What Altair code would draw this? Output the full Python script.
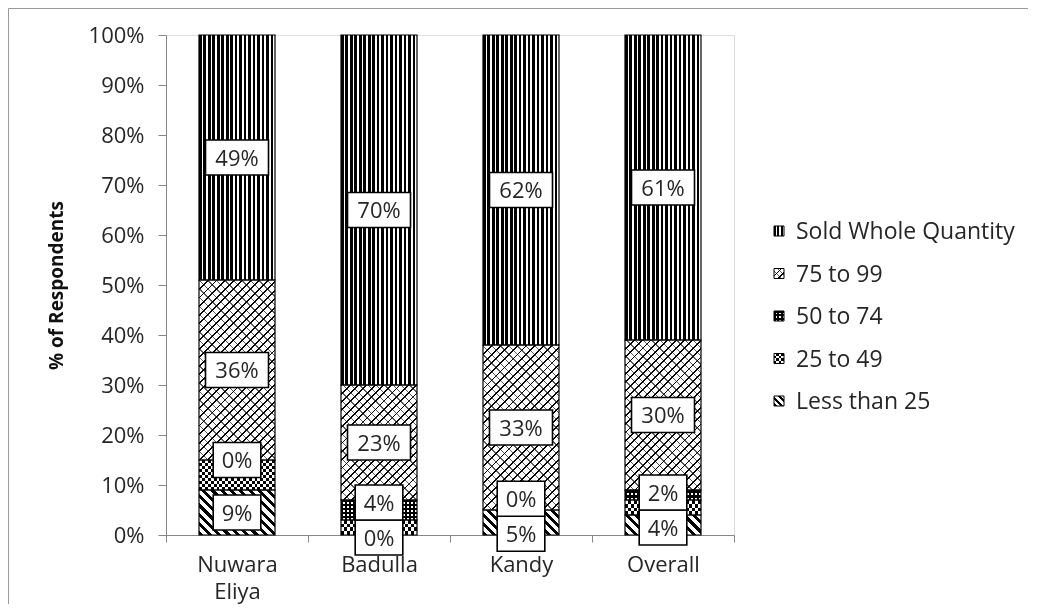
import math
import altair as alt

# ---------------- data ----------------
regions = ["Nuwara Eliya", "Badulla", "Kandy", "Overall"]
categories = ["Less than 25", "25 to 49", "50 to 74", "75 to 99", "Sold Whole Quantity"]  # bottom -> top
less_than_25 = [9, 0, 5, 4]
from_25_to_49 = [6, 3, 0, 3]
from_50_to_74 = [0, 4, 0, 2]
from_75_to_99 = [36, 23, 33, 30]
sold_whole_quantity = [49, 70, 62, 61]
labelled_categories = ["Less than 25", "50 to 74", "75 to 99", "Sold Whole Quantity"]
legend_order = ["Sold Whole Quantity", "75 to 99", "50 to 74", "25 to 49", "Less than 25"]
y_ticks = [0, 10, 20, 30, 40, 50, 60, 70, 80, 90, 100]

series = {
    "Less than 25": less_than_25,
    "25 to 49": from_25_to_49,
    "50 to 74": from_50_to_74,
    "75 to 99": from_75_to_99,
    "Sold Whole Quantity": sold_whole_quantity,
}

# ---------------- layout constants ----------------
PLOT_W, PLOT_H = 568, 500
BAR_W = 76
PX = PLOT_H / 100.0
FONT = "Open Sans"
FS = 22
TXT = "#262626"
AXIS_GREY = "#868686"
CLEAR = "rgba(0,0,0,0)"


# ---------------- hatch patterns built from linear gradients ----------------
def grad(x1, y1, x2, y2, n, duty, on, off):
    stops = []
    for i in range(n):
        a, b, c = i / n, (i + duty) / n, (i + 1) / n
        stops += [
            {"offset": round(a, 5), "color": on},
            {"offset": round(b, 5), "color": on},
            {"offset": round(b, 5), "color": off},
            {"offset": round(c, 5), "color": off},
        ]
    return {"gradient": "linear", "x1": x1, "y1": y1, "x2": x2, "y2": y2, "stops": stops}


def vstripes(w, h, period, duty, on, off):
    return grad(0, 0, 1, 0, max(1, round(w / period)), duty, on, off)


def hstripes(w, h, period, duty, on, off):
    return grad(0, 0, 0, 1, max(1, round(h / period)), duty, on, off)


def diag(w, h, period, duty, on, off, forward=True):
    r = h / w
    a = (1 + r) / (1 + r * r)
    n = max(1, round((w + h) / math.sqrt(2) / period))
    if forward:  # "/" lines
        return grad(0, 0, round(a, 5), round(a * r, 5), n, duty, on, off)
    return grad(0, 1, round(a, 5), round(1 - a * r, 5), n, duty, on, off)  # "\" lines


def pattern(cat, w, h, small=False):
    """returns (base fill, overlay fill, blended overlay fill)"""
    k = 0.75 if small else 1.0
    if cat == "Sold Whole Quantity":
        return vstripes(w, h, 3.4 if small else 4.5, 0.6, "black", "white"), None, None
    if cat == "75 to 99":
        return (diag(w, h, 6 * k, 0.22, "black", "white", True),
                diag(w, h, 6 * k, 0.16, "rgba(0,0,0,0.65)", CLEAR, False), None)
    if cat == "50 to 74":
        return (hstripes(w, h, 4 * k, 0.6, "black", "white"),
                vstripes(w, h, 4 * k, 0.6, "black", CLEAR), None)
    if cat == "25 to 49":
        return (hstripes(w, h, 6 * k, 0.5, "black", "white"), None,
                vstripes(w, h, 6 * k, 0.5, "white", "black"))
    return diag(w, h, 6.5 * k, 0.45, "black", "white", False), None, None


# ---------------- segment records ----------------
base_rows, over_rows, blend_rows = [], [], []
label_rows = []
for i, reg in enumerate(regions):
    y0 = 0.0
    centers = []
    for cat in categories:
        v = series[cat][i]
        y1 = y0 + v
        if v > 0:
            fa, fb, fc = pattern(cat, BAR_W, v * PX)
            rec = {"region": reg, "cat": cat, "y0": y0, "y1": y1}
            base_rows.append({**rec, "fill": fa})
            if fb:
                over_rows.append({**rec, "fill": fb})
            if fc:
                blend_rows.append({**rec, "fill": fc})
        if cat in labelled_categories:
            centers.append([(y0 + y1) / 2, f"{v}%"])
        y0 = y1
    # keep label boxes from overlapping (box height = 7 %)
    pos = [c[0] for c in centers]
    for _ in range(30):
        moved = False
        for k in range(len(pos) - 1):
            if pos[k + 1] - pos[k] < 7.0 - 1e-9:
                m = (pos[k] + pos[k + 1]) / 2
                pos[k], pos[k + 1] = m - 3.5, m + 3.5
                moved = True
        if not moved:
            break
    # do not let the lowest box hang far below the axis
    lift = max(0.0, -0.5 - pos[0])
    if lift:
        for k in range(len(pos)):
            if k == 0 or pos[k] - pos[k - 1] < 7.0 + 1e-6:
                pos[k] += lift
            else:
                break
    for p, (c, t) in zip(pos, centers):
        half = 1.8 if len(t) > 2 else 1.36
        shape = f"M{-half},-1L{half},-1L{half},1L{-half},1Z"
        label_rows.append({"region": reg, "ly": p, "text": t, "shape": shape})

# ---------------- legend records (in % units of the y scale) ----------------
LEG_TOP = (PLOT_H - 196) / PX
LEG_STEP = 42.5 / PX
SYM = 10
leg_base, leg_over, leg_blend, leg_text = [], [], [], []
for j, cat in enumerate(legend_order):
    yc = LEG_TOP - j * LEG_STEP
    fa, fb, fc = pattern(cat, SYM, SYM, small=True)
    rec = {"cat": cat, "ya": yc - SYM / 2 / PX, "yb": yc + SYM / 2 / PX, "yc": yc}
    leg_base.append({**rec, "fill": fa})
    if fb:
        leg_over.append({**rec, "fill": fb})
    if fc:
        leg_blend.append({**rec, "fill": fc})
    leg_text.append(rec)

# ---------------- chart ----------------
x_enc = alt.X(
    "region:N",
    sort=regions,
    scale=alt.Scale(domain=regions, paddingInner=0, paddingOuter=0),
    axis=alt.Axis(
        title=None, labelAngle=0, labelExpr="split(datum.label, ' ')",
        tickBand="extent", domainColor=AXIS_GREY, tickColor=AXIS_GREY, tickSize=7,
        labelFont=FONT, labelFontSize=FS, labelColor=TXT, labelPadding=12, labelLineHeight=27,
    ),
)
y_scale = alt.Scale(domain=[0, 100], nice=False, zero=True)
y_enc = alt.Y(
    "y0:Q", scale=y_scale,
    axis=alt.Axis(
        values=y_ticks, labelExpr="datum.value + '%'", grid=False,
        domainColor=AXIS_GREY, tickColor=AXIS_GREY, tickSize=8, labelPadding=14,
        labelFont=FONT, labelFontSize=FS, labelColor=TXT,
        title="% of Respondents", titleFont=FONT, titleFontSize=19, titleFontWeight="bold",
        titleColor="#111111", titlePadding=22,
    ),
)


def bars(rows, **kw):
    return alt.Chart(alt.Data(values=rows)).mark_bar(size=BAR_W, **kw).encode(
        x=x_enc, y=y_enc, y2="y1:Q", fill=alt.Fill("fill:N", scale=None)
    )


layer_base = bars(base_rows)
layer_over = bars(over_rows)
layer_blend = bars(blend_rows, blend="difference")
layer_outline = alt.Chart(alt.Data(values=base_rows)).mark_bar(
    size=BAR_W, fillOpacity=0, stroke="black", strokeWidth=1.2
).encode(x=x_enc, y=y_enc, y2="y1:Q")

boxes = alt.Chart(alt.Data(values=label_rows)).mark_point(
    filled=True, fill="white", stroke="black", strokeWidth=1.6, opacity=1, size=1225
).encode(
    x=x_enc, y=alt.Y("ly:Q", scale=y_scale), shape=alt.Shape("shape:N", scale=None)
)
texts = alt.Chart(alt.Data(values=label_rows)).mark_text(
    font=FONT, fontSize=FS, color=TXT, baseline="middle", align="center", dy=1
).encode(x=x_enc, y=alt.Y("ly:Q", scale=y_scale), text="text:N")

SX0 = 608
SX1 = SX0 + SYM


def leg_rects(rows, **kw):
    return alt.Chart(alt.Data(values=rows)).mark_rect(**kw).encode(
        x=alt.value(SX0), x2=alt.value(SX1),
        y=alt.Y("ya:Q", scale=y_scale), y2="yb:Q",
        fill=alt.Fill("fill:N", scale=None),
    )


leg_l1 = leg_rects(leg_base)
leg_l2 = leg_rects(leg_over)
leg_l3 = leg_rects(leg_blend, blend="difference")
leg_outline = alt.Chart(alt.Data(values=leg_base)).mark_rect(
    fillOpacity=0, stroke="black", strokeWidth=1
).encode(x=alt.value(SX0), x2=alt.value(SX1), y=alt.Y("ya:Q", scale=y_scale), y2="yb:Q")
leg_labels = alt.Chart(alt.Data(values=leg_text)).mark_text(
    font=FONT, fontSize=23, color=TXT, align="left", baseline="middle", dy=1
).encode(x=alt.value(SX1 + 12), y=alt.Y("yc:Q", scale=y_scale), text="cat:N")

# chart-area frame (left and top edges are visible in the reference)
frame_left = alt.Chart(alt.Data(values=[{"a": 1}])).mark_rule(color="#9a9a9a", strokeWidth=1).encode(
    x=alt.value(-157.5), y=alt.value(-26.5), y2=alt.value(569)
)
frame_top = alt.Chart(alt.Data(values=[{"a": 1}])).mark_rule(color="#9a9a9a", strokeWidth=1).encode(
    x=alt.value(-157.5), x2=alt.value(862), y=alt.value(-26.5)
)

chart = alt.layer(
    layer_base, layer_over, layer_blend, layer_outline, boxes, texts,
    leg_l1, leg_l2, leg_l3, leg_outline, leg_labels, frame_left, frame_top,
).properties(
    width=PLOT_W, height=PLOT_H, padding=0
).configure_view(stroke=None).configure(background="white")

chart.save("out.html", embed_options={"renderer": "svg", "actions": False})
